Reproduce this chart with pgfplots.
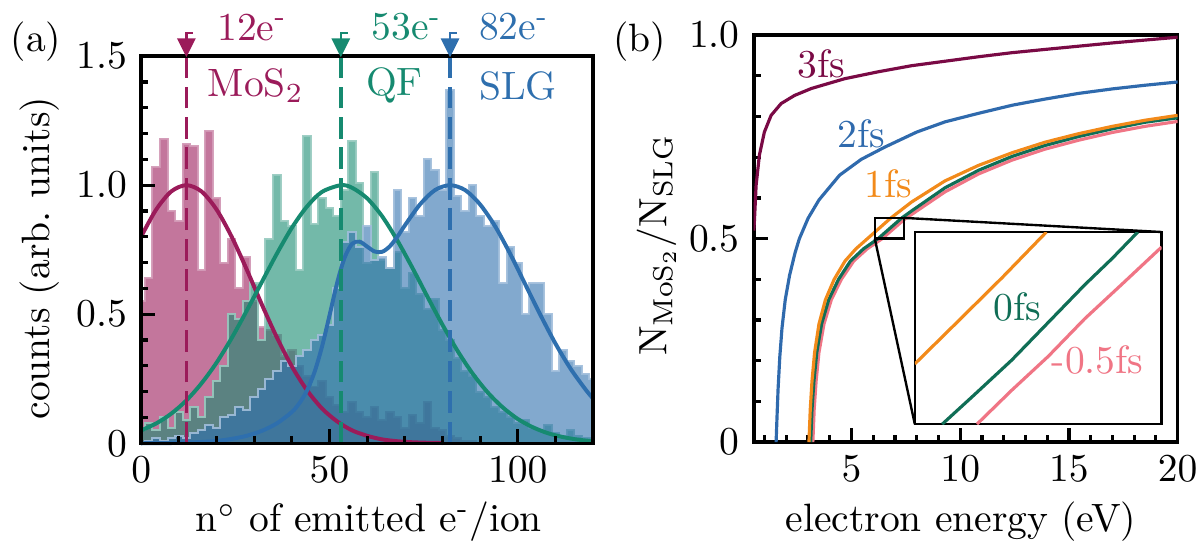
\documentclass[border=0pt]{standalone}
\usepackage{pgfplots}
\pgfplotsset{compat=1.18}
\definecolor{cMo}{HTML}{9B1B5A}
\definecolor{cQF}{HTML}{168A70}
\definecolor{cSL}{HTML}{2E6FAE}
\definecolor{cIII}{HTML}{7A0A45}
\definecolor{cII}{HTML}{2F6AAD}
\definecolor{cI}{HTML}{F28A1A}
\definecolor{cO}{HTML}{106E56}
\definecolor{cM}{HTML}{F07585}
\pgfdeclareplotmark{flagtri}{%
 \pgfpathmoveto{\pgfqpoint{-1.9pt}{1.6pt}}%
 \pgfpathlineto{\pgfqpoint{1.9pt}{1.6pt}}%
 \pgfpathlineto{\pgfqpoint{0pt}{-2.2pt}}%
 \pgfpathclose
 \pgfusepathqfillstroke
 \pgfpathmoveto{\pgfqpoint{0pt}{1.6pt}}%
 \pgfpathlineto{\pgfqpoint{0pt}{3.3pt}}%
 \pgfpathlineto{\pgfqpoint{1.7pt}{3.3pt}}%
 \pgfusepathqstroke
}
\pgfplotsset{myax/.style={scale only axis, axis line style={line width=0.9pt},
  tick style={line width=0.8pt, black}, tick align=inside, xtick pos=bottom, ytick pos=left,
  major tick length=3.6pt, minor tick length=1.8pt}}
\pgfplotsset{hist/.style={const plot, fill=#1, fill opacity=0.6, draw=#1!45!white, draw opacity=0.9, line width=0.5pt}}
\begin{document}
\begin{tikzpicture}
\useasboundingbox (0,0) rectangle (303.2pt,138.6pt);
% ---------------- panel (a)
\begin{axis}[myax, at={(35.7pt,26.5pt)}, anchor=south west, width=114.3pt, height=97.9pt,
  xmin=0, xmax=120, ymin=0, ymax=1.5, clip=false, axis on top,
  xtick={0,50,100}, minor xtick={10,20,30,40,60,70,80,90,110},
  ytick={0,0.5,1,1.5}, yticklabels={0,0.5,1.0,1.5}, minor ytick={0.1,0.2,0.3,0.4,0.6,0.7,0.8,0.9,1.1,1.2,1.3,1.4}]
% MoS2 histogram
\addplot[hist=cMo] coordinates {(0,0.55) (1,0.64) (3,1.07) (5,1.18) (7,0.90) (9,0.86) (11,1.16) (13,1.15) (15,0.67) (17,1.21) (19,0.95) (21,0.70) (23,0.79) (25,0.60) (27,0.72) (29,0.55) (31,0.45) (33,0.44) (35,0.42) (37,0.34) (39,0.36) (41,0.30) (43,0.26) (45,0.22) (47,0.24) (49,0.18) (51,0.15) (53,0.12) (55,0.16) (57,0.12) (59,0.10) (61,0.14) (63,0.09) (65,0.12) (67,0.10) (69,0.06) (71,0.11) (73,0.08) (75,0.16) (77,0.06) (79,0.05) (81,0.03) (83,0.02) (85,0.01) (87,0.01) (89,0.0)} \closedcycle;
% QF histogram
\addplot[hist=cQF] coordinates {(0,0.05) (1,0.08) (3,0.05) (5,0.10) (7,0.06) (9,0.12) (11,0.09) (13,0.14) (15,0.10) (17,0.18) (19,0.24) (21,0.30) (23,0.50) (25,0.48) (27,0.55) (29,0.62) (31,0.40) (33,0.79) (35,1.04) (37,0.86) (39,0.84) (41,0.67) (43,1.19) (45,0.85) (47,0.95) (49,0.91) (51,0.88) (53,0.98) (55,1.17) (57,1.01) (59,0.70) (61,1.05) (63,0.71) (65,0.68) (67,0.74) (69,0.60) (71,0.66) (73,0.58) (75,0.52) (77,0.56) (79,0.44) (81,0.40) (83,0.33) (85,0.28) (87,0.26) (89,0.20) (91,0.18) (93,0.14) (95,0.12) (97,0.10) (99,0.08) (101,0.09) (103,0.06) (105,0.05) (107,0.07) (109,0.04) (111,0.03) (113,0.05) (115,0.03) (117,0.02) (119,0.02) (120,0.02)} \closedcycle;
% SLG histogram
\addplot[hist=cSL] coordinates {(0,0.0) (1,0.01) (3,0.02) (5,0.01) (7,0.02) (9,0.03) (11,0.02) (13,0.04) (15,0.05) (17,0.07) (19,0.06) (21,0.10) (23,0.11) (25,0.14) (27,0.13) (29,0.18) (31,0.21) (33,0.25) (35,0.28) (37,0.32) (39,0.30) (41,0.34) (43,0.36) (45,0.40) (47,0.42) (49,0.46) (51,0.60) (53,0.78) (55,0.82) (57,0.76) (59,0.84) (61,0.71) (63,0.72) (65,0.68) (67,0.98) (69,0.82) (71,0.95) (73,0.88) (75,1.10) (77,1.06) (79,0.98) (81,1.37) (83,0.96) (85,0.90) (87,1.00) (89,0.88) (91,0.84) (93,0.86) (95,0.62) (97,0.76) (99,0.70) (101,0.50) (103,0.62) (105,0.62) (107,0.50) (109,0.28) (111,0.36) (113,0.32) (115,0.30) (117,0.27) (119,0.25) (120,0.25)} \closedcycle;
% fits
\addplot[cMo, line width=1pt, smooth] coordinates {(0,0.801) (4,0.906) (8,0.976) (12,1.0) (16,0.976) (20,0.906) (24,0.801) (28,0.674) (32,0.539) (36,0.411) (40,0.298) (44,0.206) (48,0.135) (52,0.085) (56,0.050) (60,0.029) (64,0.015) (68,0.008) (72,0.004) (76,0.002) (80,0.001)};
\addplot[cQF, line width=1pt, smooth] coordinates {(0,0.050) (4,0.077) (8,0.115) (12,0.166) (16,0.232) (20,0.312) (24,0.407) (28,0.513) (32,0.624) (36,0.734) (40,0.835) (44,0.917) (48,0.974) (53,1.0) (56,0.990) (60,0.949) (64,0.879) (68,0.786) (72,0.680) (76,0.568) (80,0.459) (84,0.358) (88,0.270) (92,0.197) (96,0.139) (100,0.094) (104,0.062) (108,0.039) (112,0.024) (116,0.014) (120,0.008)};
\addplot[cSL, line width=1pt, smooth] coordinates {(0,0.000) (4,0.001) (8,0.001) (12,0.003) (16,0.005) (20,0.009) (24,0.017) (28,0.029) (32,0.048) (36,0.077) (40,0.121) (42,0.155) (44,0.204) (46,0.275) (48,0.374) (50,0.495) (52,0.620) (54,0.719) (56,0.773) (58,0.781) (60,0.762) (62,0.743) (64,0.742) (66,0.763) (68,0.800) (70,0.844) (74,0.925) (78,0.981) (82,1.000) (86,0.981) (90,0.925) (94,0.840) (98,0.733) (102,0.615) (106,0.497) (110,0.386) (114,0.289) (118,0.208) (120,0.173)};
% dashed lines
\addplot[cMo, line width=0.9pt, dash pattern=on 5.5pt off 2.2pt] coordinates {(12,0) (12,1.5)};
\addplot[cQF, line width=0.9pt, dash pattern=on 5.5pt off 2.2pt] coordinates {(53,0) (53,1.5)};
\addplot[cSL, line width=0.9pt, dash pattern=on 5.5pt off 2.2pt] coordinates {(82,0) (82,1.5)};
% markers
\addplot[only marks, mark=flagtri, cMo, mark options={line width=0.6pt}] coordinates {(12,1.54)};
\addplot[only marks, mark=flagtri, cQF, mark options={line width=0.6pt}] coordinates {(53,1.54)};
\addplot[only marks, mark=flagtri, cSL, mark options={line width=0.6pt}] coordinates {(82,1.54)};
\node[cMo, anchor=west] at (axis cs:16.5,1.612) {12e\textsuperscript{-}};
\node[cQF, anchor=west] at (axis cs:57.5,1.612) {53e\textsuperscript{-}};
\node[cSL, anchor=west] at (axis cs:86,1.612) {82e\textsuperscript{-}};
\node[cMo, anchor=west] at (axis cs:14,1.385) {MoS$_2$};
\node[cQF, anchor=west] at (axis cs:56,1.385) {QF};
\node[cSL, anchor=west] at (axis cs:86,1.385) {SLG};
\end{axis}
% ---------------- panel (b)
\begin{axis}[myax, at={(190.6pt,26.8pt)}, anchor=south west, width=107.2pt, height=102.9pt,
  xmin=0.5, xmax=20, ymin=0, ymax=1,
  xtick={5,10,15,20}, minor xtick={1,2,3,4,6,7,8,9,11,12,13,14,16,17,18,19},
  ytick={0,0.5,1}, yticklabels={0,0.5,1.0}, minor ytick={0.1,0.2,0.3,0.4,0.6,0.7,0.8,0.9}]
\addplot[cIII, line width=0.8pt] coordinates {(0.5,0.52) (0.53,0.541) (0.61,0.631) (0.76,0.705) (0.99,0.762) (1.30,0.803) (1.76,0.832) (2.38,0.852) (3.15,0.869) (4.68,0.893) (6.22,0.910) (7.76,0.925) (9.30,0.936) (10.84,0.947) (12.38,0.957) (13.9,0.965) (15.45,0.973) (17.0,0.981) (18.5,0.988) (20.0,0.995)};
\addplot[cII, line width=0.8pt] coordinates {(1.53,0.0) (1.57,0.06) (1.62,0.13) (1.70,0.21) (1.80,0.28) (1.95,0.35) (2.15,0.41) (2.40,0.465) (2.60,0.50) (3.00,0.55) (3.50,0.595) (4.45,0.656) (5.45,0.695) (6.53,0.725) (8.00,0.762) (9.30,0.787) (10.84,0.808) (12.40,0.828) (13.90,0.843) (15.45,0.857) (17.00,0.868) (18.50,0.877) (20.00,0.885)};
\addplot[cM, line width=0.8pt] coordinates {(3.22,0.0) (3.28,0.08) (3.37,0.15) (3.50,0.22) (3.73,0.29) (4.07,0.35) (4.53,0.40) (5.10,0.445) (5.72,0.475) (6.41,0.50) (7.42,0.547) (9.3,0.615) (10.84,0.659) (12.38,0.693) (13.9,0.720) (15.45,0.742) (17.0,0.761) (18.5,0.776) (20.0,0.788)};
\addplot[cO, line width=0.8pt] coordinates {(3.12,0.0) (3.18,0.08) (3.27,0.15) (3.40,0.22) (3.62,0.29) (3.95,0.35) (4.40,0.40) (4.95,0.445) (5.55,0.475) (6.22,0.50) (7.29,0.55) (7.76,0.568) (9.3,0.625) (10.84,0.668) (12.38,0.702) (13.9,0.729) (15.45,0.751) (17.0,0.770) (18.5,0.786) (20.0,0.797)};
\addplot[cI, line width=0.8pt] coordinates {(3.04,0.0) (3.10,0.08) (3.18,0.15) (3.30,0.22) (3.50,0.29) (3.80,0.35) (4.20,0.40) (4.70,0.445) (5.20,0.475) (5.73,0.50) (6.07,0.516) (6.79,0.55) (7.76,0.59) (9.3,0.642) (10.84,0.680) (12.38,0.711) (13.9,0.737) (15.45,0.758) (17.0,0.776) (18.5,0.791) (20.0,0.803)};
\node[cIII] at (axis cs:3.61,0.930) {3fs};
\node[cII] at (axis cs:5.45,0.758) {2fs};
\node[cI] at (axis cs:6.68,0.636) {1fs};
\draw[line width=0.6pt] (axis cs:6.07,0.5) rectangle (axis cs:7.42,0.551);
\coordinate (sbl) at (axis cs:6.07,0.5);
\coordinate (str) at (axis cs:7.42,0.551);
\coordinate (insetpos) at (axis cs:7.91,0.044);
\end{axis}
% ---------------- inset
\begin{axis}[name=inset, scale only axis, at={(insetpos)}, anchor=south west, width=62.4pt, height=48.6pt,
  xmin=6.07, xmax=7.42, ymin=0.5, ymax=0.551, xtick=\empty, ytick=\empty,
  axis line style={line width=0.6pt}, axis background/.style={fill=white}]
\addplot[cI, line width=0.8pt] coordinates {(6.07,0.516) (6.3,0.527) (6.55,0.539) (6.79,0.551)};
\addplot[cO, line width=0.8pt] coordinates {(6.22,0.5) (6.4,0.508) (6.6,0.517) (6.8,0.527) (7.0,0.537) (7.15,0.544) (7.29,0.551)};
\addplot[cM, line width=0.8pt] coordinates {(6.41,0.5) (6.6,0.509) (6.8,0.518) (7.0,0.528) (7.2,0.537) (7.42,0.547)};
\node[cO] at (axis cs:6.63,0.531) {0fs};
\node[cM] at (axis cs:7.07,0.517) {-0.5fs};
\end{axis}
\draw[line width=0.6pt] (sbl) -- (inset.south west);
\draw[line width=0.6pt] (str) -- (inset.north east);
% ---------------- labels
\node at (9.1pt,128.0pt) {(a)};
\node at (161.8pt,128.0pt) {(b)};
\node[rotate=90] at (10.1pt,73.3pt) {counts (arb.\ units)};
\node[rotate=90] at (166pt,76.6pt) {$\mathrm{N}_{\mathrm{MoS}_2}/\mathrm{N}_{\mathrm{SLG}}$};
\node at (93.3pt,6.6pt) {n$^\circ$ of emitted e\textsuperscript{-}/ion};
\node at (243pt,6.6pt) {electron energy (eV)};
\end{tikzpicture}
\end{document}
